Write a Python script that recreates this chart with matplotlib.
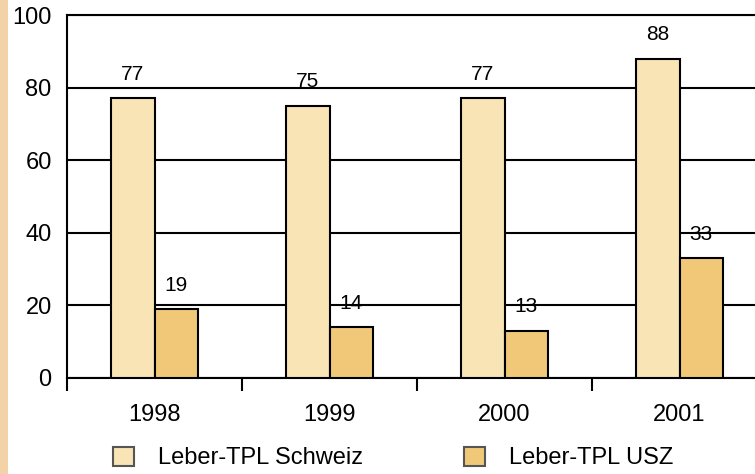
import matplotlib.pyplot as plt
import matplotlib.patches as patches
import numpy as np

# ================= DATA =================
years = ["1998", "1999", "2000", "2001"]
schweiz = [77, 75, 77, 88]
usz = [19, 14, 13, 33]
series_names = ["Leber-TPL Schweiz", "Leber-TPL USZ"]

LIGHT = "#F8E4B4"
DARK = "#F0C878"
STRIP = "#F2D2A6"
LW = 1.5

plt.rcParams["font.family"] = ["Liberation Sans", "DejaVu Sans"]

fig = plt.figure(figsize=(7.55, 4.74), dpi=100)
W, H = 755, 474

# orange strip at the left edge
fig.patches.append(patches.Rectangle((0, 0), 8 / W, 1, transform=fig.transFigure,
                                     facecolor=STRIP, edgecolor="none", zorder=0))

ax = fig.add_axes([67 / W, (H - 378) / H, 700 / W, 363 / H])

x = np.arange(len(years))
bw = 0.25
ax.bar(x - bw / 2, schweiz, bw, color=LIGHT, edgecolor="black", linewidth=LW, zorder=3)
ax.bar(x + bw / 2, usz, bw, color=DARK, edgecolor="black", linewidth=LW, zorder=3)

for xi, v in zip(x, schweiz):
    ax.text(xi - bw / 2, v + 4, str(v), ha="center", va="bottom", fontsize=15)
for xi, v in zip(x, usz):
    ax.text(xi + bw / 2, v + 4, str(v), ha="center", va="bottom", fontsize=15)

ax.set_xlim(-0.5, len(years) - 0.5)
ax.set_ylim(0, 100)
ax.set_yticks([0, 20, 40, 60, 80, 100])
ax.tick_params(axis="y", length=0, pad=11, labelsize=17)
ax.set_xticks(x)
ax.set_xticklabels(years)
ax.tick_params(axis="x", which="major", length=0, pad=19, labelsize=17)
ax.set_xticks(np.arange(len(years) + 1) - 0.5, minor=True)
ax.tick_params(axis="x", which="minor", length=9, width=LW, direction="out")

ax.yaxis.grid(True, color="black", linewidth=LW, zorder=1)
ax.set_axisbelow(True)
ax.spines["right"].set_visible(False)
for side in ["left", "bottom", "top"]:
    ax.spines[side].set_linewidth(LW)

# legend
handles = [patches.Patch(facecolor=c, edgecolor="#555555", linewidth=LW)
           for c in (LIGHT, DARK)]
fig.legend(handles, series_names, loc="center", bbox_to_anchor=(393 / W, (H - 458) / H),
           ncol=2, frameon=False, fontsize=17, handlelength=0.9, handleheight=0.9,
           handletextpad=1.0, columnspacing=4.3, borderpad=0)

fig.savefig("out.png", dpi=100)
